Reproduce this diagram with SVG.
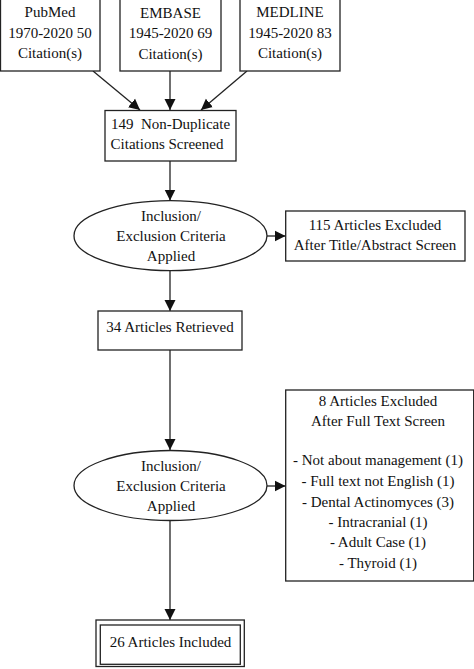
<svg xmlns="http://www.w3.org/2000/svg" width="474" height="669" viewBox="0 0 474 669">
<defs>
<style>
.box{fill:#fff;stroke:#222;stroke-width:1.3}
.t{font-family:"Liberation Serif","Times New Roman",serif;font-size:15px;fill:#111;text-anchor:middle}
.c{fill:none;stroke:#222;stroke-width:1.3}
</style>
<marker id="ah" markerUnits="userSpaceOnUse" markerWidth="12" markerHeight="12" viewBox="0 0 12 12" refX="11" refY="6" orient="auto">
<path d="M0,0.5 L11,6 L0,11.5 Z" fill="#111"/>
</marker>
</defs>
<rect width="474" height="669" fill="#fff"/>
<g id="connectors">
<line class="c" x1="93" y1="71" x2="140" y2="110" marker-end="url(#ah)"/>
<line class="c" x1="170" y1="71" x2="170" y2="110" marker-end="url(#ah)"/>
<line class="c" x1="247" y1="71" x2="201" y2="110" marker-end="url(#ah)"/>
<line class="c" x1="170" y1="161" x2="170" y2="200.5" marker-end="url(#ah)"/>
<line class="c" x1="267" y1="236" x2="285.5" y2="236" marker-end="url(#ah)"/>
<line class="c" x1="170" y1="271" x2="170" y2="311" marker-end="url(#ah)"/>
<line class="c" x1="170" y1="350" x2="170" y2="450" marker-end="url(#ah)"/>
<line class="c" x1="267" y1="486" x2="285.5" y2="486" marker-end="url(#ah)"/>
<line class="c" x1="170" y1="521" x2="170" y2="620" marker-end="url(#ah)"/>
</g>
<g id="pubmed">
<rect class="box" x="0.5" y="-5" width="99.5" height="76"/>
<text class="t" x="50" y="17">PubMed</text>
<text class="t" x="50" y="37.5">1970-2020 50</text>
<text class="t" x="50" y="58">Citation(s)</text>
</g>
<g id="embase">
<rect class="box" x="120" y="-5" width="101" height="76"/>
<text class="t" x="170.5" y="17.5">EMBASE</text>
<text class="t" x="170.5" y="38">1945-2020 69</text>
<text class="t" x="170.5" y="58.5">Citation(s)</text>
</g>
<g id="medline">
<rect class="box" x="240" y="-5" width="100" height="76"/>
<text class="t" x="290" y="17">MEDLINE</text>
<text class="t" x="290" y="37.5">1945-2020 83</text>
<text class="t" x="290" y="58">Citation(s)</text>
</g>
<g id="screened">
<rect class="box" x="105" y="110.5" width="131" height="50.5"/>
<text class="t" x="170.5" y="128.5" xml:space="preserve">149  Non-Duplicate</text>
<text class="t" x="167" y="148.5">Citations Screened</text>
</g>
<g id="criteria1">
<ellipse class="box" cx="170.5" cy="235.7" rx="96.5" ry="35"/>
<text class="t" x="171" y="220.5">Inclusion/</text>
<text class="t" x="171" y="241">Exclusion Criteria</text>
<text class="t" x="171" y="260.5">Applied</text>
</g>
<g id="excluded1">
<rect class="box" x="285.7" y="211" width="179.3" height="50"/>
<text class="t" x="375" y="229.5">115 Articles Excluded</text>
<text class="t" x="375" y="249.5">After Title/Abstract Screen</text>
</g>
<g id="retrieved">
<rect class="box" x="98" y="311" width="144" height="39"/>
<text class="t" x="170" y="332">34 Articles Retrieved</text>
</g>
<g id="criteria2">
<ellipse class="box" cx="170.5" cy="485.5" rx="96.5" ry="35"/>
<text class="t" x="171" y="471">Inclusion/</text>
<text class="t" x="171" y="491.3">Exclusion Criteria</text>
<text class="t" x="171" y="511">Applied</text>
</g>
<g id="excluded2">
<rect class="box" x="285.7" y="390" width="188" height="191"/>
<text class="t" x="378" y="405.7">8 Articles Excluded</text>
<text class="t" x="378" y="426">After Full Text Screen</text>
<text class="t" x="378" y="465">- Not about management (1)</text>
<text class="t" x="378" y="485.7">- Full text not English (1)</text>
<text class="t" x="378" y="506.5">- Dental Actinomyces (3)</text>
<text class="t" x="378" y="527">- Intracranial (1)</text>
<text class="t" x="378" y="547.3">- Adult Case (1)</text>
<text class="t" x="378" y="568">- Thyroid (1)</text>
</g>
<g id="included">
<rect class="box" x="96" y="620" width="148.3" height="46.5"/>
<rect class="box" x="100.3" y="625" width="140" height="39.3"/>
<text class="t" x="170.5" y="646.7">26 Articles Included</text>
</g>
</svg>
